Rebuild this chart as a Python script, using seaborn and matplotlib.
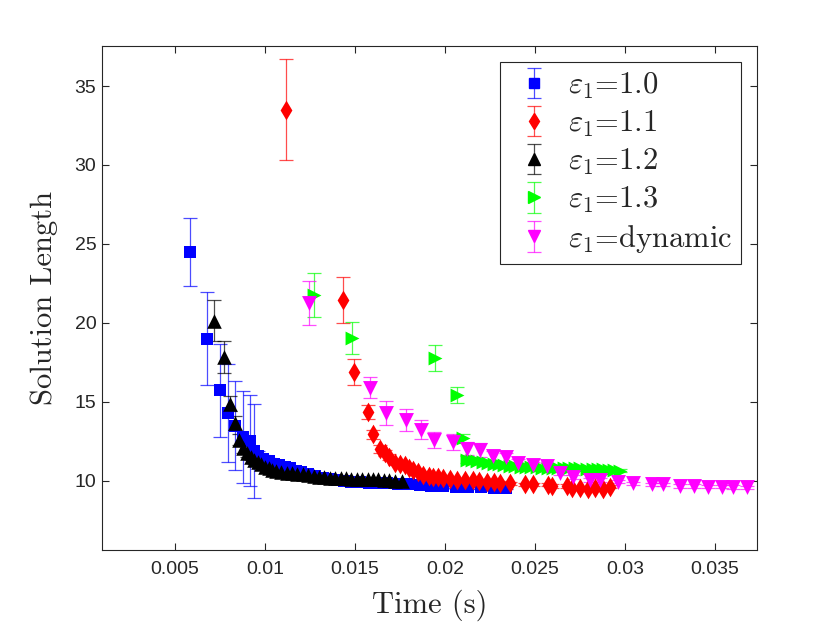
import numpy as np
import pandas as pd
import matplotlib
matplotlib.use("Agg")
import matplotlib.pyplot as plt
from matplotlib.lines import Line2D
import seaborn as sns

# ---------------- data ----------------
x_10 = [0.00585, 0.00678, 0.0075, 0.00793, 0.00833, 0.0088, 0.00917, 0.0094,
        0.0096, 0.0099, 0.0102, 0.0105, 0.0108, 0.0111, 0.0114, 0.0117, 0.0120,
        0.0124, 0.0128, 0.0132, 0.0136, 0.0140, 0.0144, 0.0148, 0.0153, 0.0158,
        0.0163, 0.0168, 0.0174, 0.0180, 0.0186, 0.0192, 0.0199, 0.0206, 0.0213,
        0.0220, 0.0227, 0.0234]
y_10 = [24.5, 19.0, 15.75, 14.3, 13.5, 12.8, 12.55, 11.9,
        11.6, 11.4, 11.28, 11.1, 10.98, 10.9, 10.8, 10.65, 10.55,
        10.42, 10.3, 10.2, 10.1, 10.03, 9.98, 9.95, 9.92, 9.9,
        9.87, 9.84, 9.82, 9.8, 9.72, 9.68, 9.65, 9.62, 9.6,
        9.6, 9.58, 9.57]
e_10 = [2.15, 2.95, 2.95, 3.1, 2.8, 2.9, 2.9, 3.0,
        0.3, 0.25, 0.2, 0.2, 0.15, 0.15, 0.15, 0.1, 0.1,
        0.1, 0.1, 0.1, 0.1, 0.1, 0.1, 0.1, 0.1, 0.1,
        0.1, 0.1, 0.1, 0.1, 0.1, 0.1, 0.1, 0.1, 0.1,
        0.1, 0.1, 0.1]

x_11 = [0.01117, 0.01435, 0.01496, 0.0157, 0.0160, 0.0164, 0.01665, 0.0169,
        0.01722, 0.0175, 0.01778, 0.0180, 0.01824, 0.0185, 0.0188, 0.0191,
        0.01935, 0.0196, 0.0199, 0.0203, 0.02065, 0.0211, 0.02157, 0.0219,
        0.02232, 0.0227, 0.02306, 0.02361, 0.02444, 0.02487, 0.02574, 0.02593,
        0.02676, 0.02704, 0.0275, 0.02796, 0.02833, 0.0288, 0.02917]
y_11 = [33.5, 21.45, 16.9, 14.35, 12.95, 12.05, 11.75, 11.5,
        11.15, 11.1, 11.0, 10.85, 10.7, 10.55, 10.4, 10.33,
        10.27, 10.22, 10.17, 10.1, 10.06, 10.05, 10.05, 10.0,
        9.96, 9.93, 9.9, 9.85, 9.78, 9.78, 9.75, 9.68,
        9.68, 9.53, 9.56, 9.49, 9.53, 9.49, 9.64]
e_11 = [3.2, 1.47, 0.8, 0.45, 0.3, 0.25, 0.2, 0.2,
        0.15, 0.15, 0.15, 0.1, 0.1, 0.1, 0.1, 0.1,
        0.1, 0.1, 0.1, 0.1, 0.1, 0.1, 0.1, 0.1,
        0.1, 0.1, 0.1, 0.1, 0.1, 0.1, 0.1, 0.1,
        0.1, 0.1, 0.1, 0.1, 0.1, 0.1, 0.1]

x_12 = [0.00715, 0.0077, 0.00806, 0.00833, 0.00857, 0.0088, 0.0090, 0.0092,
        0.0094, 0.0096, 0.0098, 0.0100, 0.0102, 0.0104, 0.0106, 0.0109, 0.0112,
        0.0115, 0.0118, 0.0121, 0.0124, 0.0127, 0.0130, 0.0133, 0.0136, 0.0139,
        0.0142, 0.0145, 0.0148, 0.0151, 0.0154, 0.0157, 0.0160, 0.0163, 0.0166,
        0.0169, 0.0172, 0.0176]
y_12 = [20.15, 17.85, 14.9, 13.65, 12.6, 12.1, 11.75, 11.5,
        11.3, 11.2, 11.05, 10.9, 10.8, 10.72, 10.65, 10.58, 10.52,
        10.48, 10.44, 10.41, 10.38, 10.33, 10.28, 10.24, 10.2, 10.18,
        10.17, 10.16, 10.15, 10.14, 10.13, 10.13, 10.12, 10.1, 10.08,
        10.05, 10.02, 9.98]
e_12 = [1.3, 1.0, 0.5, 0.45, 0.35, 0.3, 0.25, 0.2,
        0.2, 0.15, 0.15, 0.1, 0.1, 0.1, 0.1, 0.1, 0.1,
        0.1, 0.1, 0.1, 0.1, 0.1, 0.1, 0.1, 0.1, 0.1,
        0.1, 0.1, 0.1, 0.1, 0.1, 0.1, 0.1, 0.1, 0.1,
        0.1, 0.1, 0.1]

x_13 = [0.01269, 0.01482, 0.01944, 0.02065, 0.02102, 0.0212, 0.0215, 0.0218,
        0.0221, 0.0224, 0.0227, 0.0230, 0.0233, 0.0236, 0.0239, 0.0242, 0.0245,
        0.0248, 0.0251, 0.0254, 0.0257, 0.0260, 0.0263, 0.0266, 0.0269, 0.0272,
        0.0275, 0.0279, 0.0282, 0.0285, 0.0288, 0.0291, 0.0294, 0.0297]
y_13 = [21.75, 19.05, 17.8, 15.45, 12.7, 11.35, 11.3, 11.25,
        11.2, 11.15, 11.1, 11.05, 11.0, 10.95, 10.92, 10.9, 10.88,
        10.87, 10.86, 10.85, 10.85, 10.84, 10.83, 10.82, 10.8, 10.8,
        10.79, 10.78, 10.77, 10.75, 10.73, 10.7, 10.68, 10.65]
e_13 = [1.4, 1.02, 0.82, 0.5, 0.3, 0.2, 0.2, 0.15,
        0.15, 0.15, 0.1, 0.1, 0.1, 0.1, 0.1, 0.1, 0.1,
        0.1, 0.1, 0.1, 0.1, 0.1, 0.1, 0.1, 0.1, 0.1,
        0.1, 0.1, 0.1, 0.1, 0.1, 0.1, 0.1, 0.1]

x_dyn = [0.01246, 0.01583, 0.01672, 0.01782, 0.01865, 0.0194, 0.02046, 0.0212,
         0.02194, 0.02268, 0.02339, 0.02407, 0.0249, 0.02565, 0.02639, 0.02713,
         0.02806, 0.02861, 0.02963, 0.03046, 0.03148, 0.03213, 0.03306, 0.0338,
         0.03463, 0.03537, 0.03602, 0.03676]
y_dyn = [21.25, 15.9, 14.3, 13.85, 13.25, 12.6, 12.45, 12.05,
         11.95, 11.55, 11.5, 11.15, 11.0, 10.92, 10.5, 10.25,
         10.06, 10.06, 9.96, 9.85, 9.8, 9.8, 9.68, 9.68,
         9.64, 9.64, 9.62, 9.6]
e_dyn = [1.4, 0.65, 0.74, 0.68, 0.6, 0.5, 0.5, 0.4,
         0.46, 0.35, 0.3, 0.25, 0.2, 0.2, 0.15, 0.15,
         0.1, 0.1, 0.1, 0.1, 0.1, 0.1, 0.1, 0.1,
         0.1, 0.1, 0.1, 0.1]

labels = [r'$\varepsilon_1$=1.0', r'$\varepsilon_1$=1.1', r'$\varepsilon_1$=1.2',
          r'$\varepsilon_1$=1.3', r'$\varepsilon_1$=dynamic']
x_ticks = [0.005, 0.01, 0.015, 0.02, 0.025, 0.03, 0.035]
x_tick_labels = ['0.005', '0.01', '0.015', '0.02', '0.025', '0.03', '0.035']
y_ticks = [10, 15, 20, 25, 30, 35]

series = [(x_10, y_10, e_10), (x_11, y_11, e_11), (x_12, y_12, e_12),
          (x_13, y_13, e_13), (x_dyn, y_dyn, e_dyn)]
colors = ['#0000ff', '#ff0000', '#000000', '#00ff00', '#ff00ff']
markers = ['s', 'd', '^', '>', 'v']
msizes = [64, 100, 110, 100, 115]

# ---------------- style ----------------
sns.set_theme(style='ticks')
plt.rcParams['font.family'] = ['Liberation Sans', 'DejaVu Sans']
plt.rcParams['mathtext.fontset'] = 'cm'
plt.rcParams['axes.unicode_minus'] = False

fig = plt.figure(figsize=(8.3, 6.23), dpi=100)
ax = fig.add_axes([0.1229, 0.1172, 0.7892, 0.8094])

handles = []
for (xs, ys, es), c, m, s, lab in zip(series, colors, markers, msizes, labels):
    df = pd.DataFrame({'x': xs, 'y': ys, 'e': es})
    cont = ax.errorbar(df['x'], df['y'], yerr=df['e'], fmt='none', ecolor=c,
                       elinewidth=0.9, capsize=5, capthick=0.9, alpha=0.7)
    sns.scatterplot(data=df, x='x', y='y', ax=ax, color=c, marker=m, s=s,
                    edgecolor=c, linewidth=0, legend=False, zorder=3)
    mk = Line2D([], [], linestyle='none', marker=m, color=c, markeredgecolor=c,
                markersize=np.sqrt(s) * 0.85)
    handles.append((cont, mk))

ax.set_xlim(0.00094, 0.03733)
ax.set_ylim(5.63, 37.55)
ax.set_xticks(x_ticks)
ax.set_xticklabels(x_tick_labels)
ax.set_yticks(y_ticks)

ax.tick_params(direction='in', length=5, width=0.8, colors='#262626',
               labelsize=14, top=True, right=True)
ax.tick_params(axis='x', pad=8)
ax.tick_params(axis='y', pad=4)
for sp in ax.spines.values():
    sp.set_color('#262626')
    sp.set_linewidth(0.8)

ax.set_xlabel('Time (s)', fontfamily='cmr10', fontsize=22, color='#262626',
              labelpad=8)
ax.set_ylabel('Solution Length', fontfamily='cmr10', fontsize=22,
              color='#262626', labelpad=12)

leg = ax.legend(handles, labels, loc='upper right',
                bbox_to_anchor=(0.9756, 0.9677), numpoints=1,
                prop={'family': 'cmr10', 'size': 22}, frameon=True,
                fancybox=False, edgecolor='#262626', framealpha=1,
                borderpad=0.28, labelspacing=0.26, handlelength=1.7,
                handletextpad=0.25, borderaxespad=0)
leg.get_frame().set_linewidth(0.8)

fig.savefig('out.png', dpi=100, facecolor='white')
